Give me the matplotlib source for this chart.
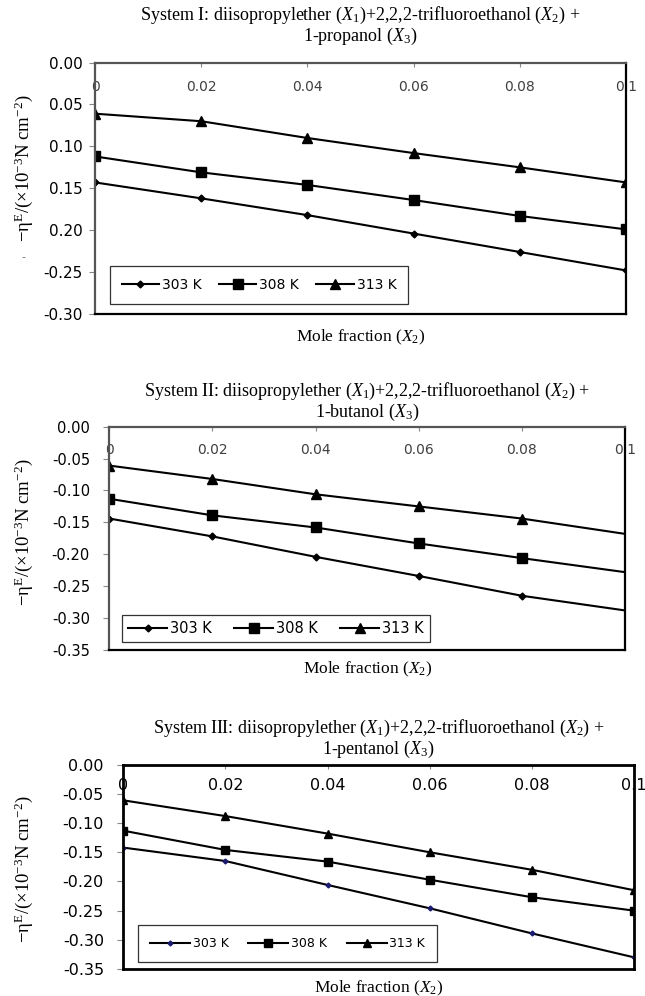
# three panels of excess viscosity vs mole fraction of TFE
import matplotlib
matplotlib.use("Agg")
import matplotlib.pyplot as plt
from matplotlib.ticker import FixedLocator, FixedFormatter

plt.rcParams['mathtext.fontset'] = 'custom'
plt.rcParams['mathtext.rm'] = 'Liberation Serif'
plt.rcParams['mathtext.it'] = 'Liberation Serif:italic'

x_frac = [0, 0.02, 0.04, 0.06, 0.08, 0.1]
x_ticklabels = ["0", "0.02", "0.04", "0.06", "0.08", "0.1"]
temps = ["303 K", "308 K", "313 K"]

# System I: 1-propanol
sys1_303 = [-0.143, -0.162, -0.182, -0.204, -0.226, -0.248]
sys1_308 = [-0.112, -0.131, -0.146, -0.164, -0.183, -0.199]
sys1_313 = [-0.061, -0.070, -0.090, -0.108, -0.125, -0.143]
sys1_yticks = [0.0, -0.05, -0.10, -0.15, -0.20, -0.25, -0.30]
sys1_ylabels = ["0.00", "0.05", "0.10", "0.15", "0.20", "-0.25", "-0.30"]

# System II: 1-butanol
sys2_303 = [-0.144, -0.172, -0.204, -0.234, -0.265, -0.288]
sys2_308 = [-0.113, -0.139, -0.158, -0.183, -0.206, -0.228]
sys2_313 = [-0.061, -0.082, -0.106, -0.125, -0.144, -0.168]
sys2_yticks = [0.0, -0.05, -0.10, -0.15, -0.20, -0.25, -0.30, -0.35]
sys2_ylabels = ["0.00", "-0.05", "-0.10", "-0.15", "-0.20", "-0.25", "-0.30", "-0.35"]

# System III: 1-pentanol
sys3_303 = [-0.142, -0.165, -0.206, -0.246, -0.289, -0.330]
sys3_308 = [-0.113, -0.146, -0.166, -0.197, -0.227, -0.250]
sys3_313 = [-0.061, -0.088, -0.118, -0.150, -0.180, -0.215]
sys3_yticks = sys2_yticks
sys3_ylabels = sys2_ylabels

titles = [
    "System I: diisopropylether ($X_1$)+2,2,2-trifluoroethanol ($X_2$) +\n1-propanol ($X_3$)",
    "System II: diisopropylether ($X_1$)+2,2,2-trifluoroethanol ($X_2$) +\n1-butanol ($X_3$)",
    "System III: diisopropylether ($X_1$)+2,2,2-trifluoroethanol ($X_2$) +\n1-pentanol ($X_3$)",
]
ylabel = "\u2212\u03b7$^{\\mathrm{E}}$/(\u00d710$^{\u22123}$N cm$^{\u22122}$)"
xlabel = "Mole fraction ($X_2$)"

fig = plt.figure(figsize=(6.45, 9.96), dpi=100)

panels = [
    dict(rect=[0.1473, 0.6847, 0.8233, 0.2525], series=[sys1_303, sys1_308, sys1_313],
         yticks=sys1_yticks, ylabels=sys1_ylabels, ymin=-0.30, frame='#555555',
         xtcol='#404040', lastmark=True, d_col='black',
         title_pad=15.5, xl_pad=10, ylab_xy=(-0.113, 0.58),
         ytick_fs=11, ytick_pad=5, xtick_fs=10, xtick_pad=-23,
         leg=dict(pos=(0.028, 0.04), fs=10, bp=0.85, hl=2.7, cs=1.25)),
    dict(rect=[0.1695, 0.3474, 0.7995, 0.2242], series=[sys2_303, sys2_308, sys2_313],
         yticks=sys2_yticks, ylabels=sys2_ylabels, ymin=-0.35, frame='#555555',
         xtcol='#404040', lastmark=False, d_col='black',
         title_pad=7, xl_pad=7, ylab_xy=(-0.144, 0.528),
         ytick_fs=10.5, ytick_pad=10, xtick_fs=10, xtick_pad=-22,
         leg=dict(pos=(0.025, 0.036), fs=10.5, bp=0.4, hl=2.7, cs=1.5)),
    dict(rect=[0.1912, 0.0271, 0.7918, 0.2051], series=[sys3_303, sys3_308, sys3_313],
         yticks=sys3_yticks, ylabels=sys3_ylabels, ymin=-0.35, frame='black',
         xtcol='black', lastmark=True, d_col='#1a1a6e',
         title_pad=8, xl_pad=7, ylab_xy=(-0.173, 0.489),
         ytick_fs=11.5, ytick_pad=10, xtick_fs=11.5, xtick_pad=-20.5,
         leg=dict(pos=(0.029, 0.034), fs=9, bp=0.95, hl=3.2, cs=1.6)),
]

markers = ['D', 's', '^']
msizes = [3.5, 6.5, 6.5]

for i, p in enumerate(panels):
    ax = fig.add_axes(p['rect'])
    for j, vals in enumerate(p['series']):
        mev = None if p['lastmark'] else [0, 1, 2, 3, 4]
        mc = p['d_col'] if j == 0 else 'black'
        ax.plot(x_frac, vals, color='black', lw=1.5, marker=markers[j],
                ms=msizes[j] if i < 2 else msizes[j] - 1, mfc=mc, mec=mc,
                markevery=mev, label=temps[j])
    ax.set_xlim(0, 0.1)
    ax.set_ylim(p['ymin'], 0)

    ax.yaxis.set_major_locator(FixedLocator(p['yticks']))
    ax.yaxis.set_major_formatter(FixedFormatter(p['ylabels']))
    ax.xaxis.set_major_locator(FixedLocator(x_frac))
    ax.xaxis.set_major_formatter(FixedFormatter(x_ticklabels))
    ax.xaxis.tick_top()
    ax.tick_params(axis='x', direction='in', length=3, color='#888888',
                   labelsize=p['xtick_fs'], labelcolor=p['xtcol'], pad=p['xtick_pad'])
    ax.tick_params(axis='y', direction='out', length=4, color='#888888',
                   labelsize=p['ytick_fs'], labelcolor='black', pad=p['ytick_pad'])

    lw_frame = 1.6 if i < 2 else 2.0
    for side in ['top', 'left']:
        ax.spines[side].set_color(p['frame'])
        ax.spines[side].set_linewidth(lw_frame)
    for side in ['right', 'bottom']:
        ax.spines[side].set_color('black')
        ax.spines[side].set_linewidth(lw_frame)

    ax.set_title(titles[i], family='Liberation Serif', fontsize=13,
                 pad=p['title_pad'], linespacing=1.0)
    ax.set_ylabel(ylabel, family='Liberation Serif', fontsize=13.5)
    ax.yaxis.set_label_coords(*p['ylab_xy'])
    ax.set_xlabel(xlabel, family='Liberation Serif', fontsize=12.5, labelpad=p['xl_pad'])

    lg = p['leg']
    leg = ax.legend(loc='lower left', bbox_to_anchor=lg['pos'], ncol=3,
                    fontsize=lg['fs'], frameon=True, fancybox=False, edgecolor='black',
                    handlelength=lg['hl'], columnspacing=lg['cs'], handletextpad=0.2,
                    borderpad=lg['bp'], borderaxespad=0)
    leg.get_frame().set_linewidth(0.9)

# stray mark below the first y label
fig.text(23 / 645, 1 - 257 / 996, "-", fontsize=8, color='#666666',
         ha='center', va='center')

fig.savefig("out.png", dpi=100)
